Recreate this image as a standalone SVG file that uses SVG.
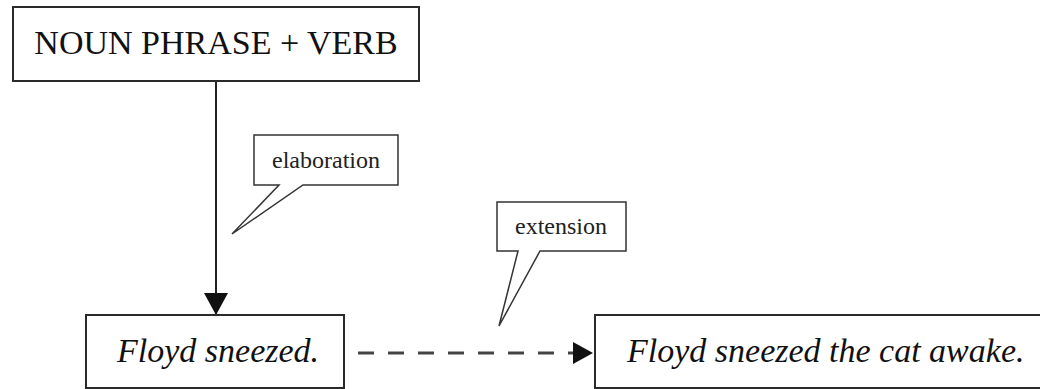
<svg xmlns="http://www.w3.org/2000/svg" width="1040" height="389" viewBox="0 0 1040 389">
  <style>
    .box { fill: #ffffff; stroke: #2a2a2a; stroke-width: 2; }
    .callout { fill: #ffffff; stroke: #333333; stroke-width: 1.5; stroke-linejoin: miter; }
    .big { font-family: "Liberation Serif", "Times New Roman", serif; font-size: 34px; fill: #111111; }
    .it { font-style: italic; }
    .small { font-family: "Liberation Serif", "Times New Roman", serif; font-size: 24px; fill: #222222; }
    .edge { fill: none; stroke: #222222; stroke-width: 2; }
    .dashed { fill: none; stroke: #444444; stroke-width: 3; stroke-dasharray: 16 14; }
  </style>
  <defs>
    <marker id="arrowDown" markerUnits="userSpaceOnUse" markerWidth="24" markerHeight="24" viewBox="0 0 22 24" refX="22" refY="12" orient="auto">
      <path d="M0,0 L22,12 L0,24 Z" fill="#111111"/>
    </marker>
    <marker id="arrowRight" markerUnits="userSpaceOnUse" markerWidth="20" markerHeight="22" viewBox="0 0 20 22" refX="20" refY="11" orient="auto">
      <path d="M0,0 L20,11 L0,22 Z" fill="#111111"/>
    </marker>
  </defs>
  <rect width="1040" height="389" fill="#ffffff"/>

  <g id="connectors">
    <path class="edge" d="M216,81 L216,315" marker-end="url(#arrowDown)"/>
    <path class="dashed" d="M358,353 L593,353" marker-end="url(#arrowRight)"/>
  </g>

  <g id="node-np-verb">
    <rect class="box" x="13" y="7" width="406" height="74"/>
    <text class="big" x="216" y="54" text-anchor="middle">NOUN PHRASE + VERB</text>
  </g>

  <g id="node-floyd-sneezed">
    <rect class="box" x="86" y="315" width="258" height="73"/>
    <text class="big it" x="117" y="362">Floyd sneezed.</text>
  </g>

  <g id="node-floyd-cat">
    <rect class="box" x="595" y="315" width="450" height="73"/>
    <text class="big it" x="627" y="362">Floyd sneezed the cat awake.</text>
  </g>

  <g id="label-elaboration">
    <path class="callout" d="M254,135 H398 V185 H303 L232,234 L279,185 H254 Z"/>
    <text class="small" x="326" y="168" text-anchor="middle">elaboration</text>
  </g>

  <g id="label-extension">
    <path class="callout" d="M497,202 H626 V251 H540 L499,326 L518,251 H497 Z"/>
    <text class="small" x="561" y="234" text-anchor="middle">extension</text>
  </g>
</svg>
